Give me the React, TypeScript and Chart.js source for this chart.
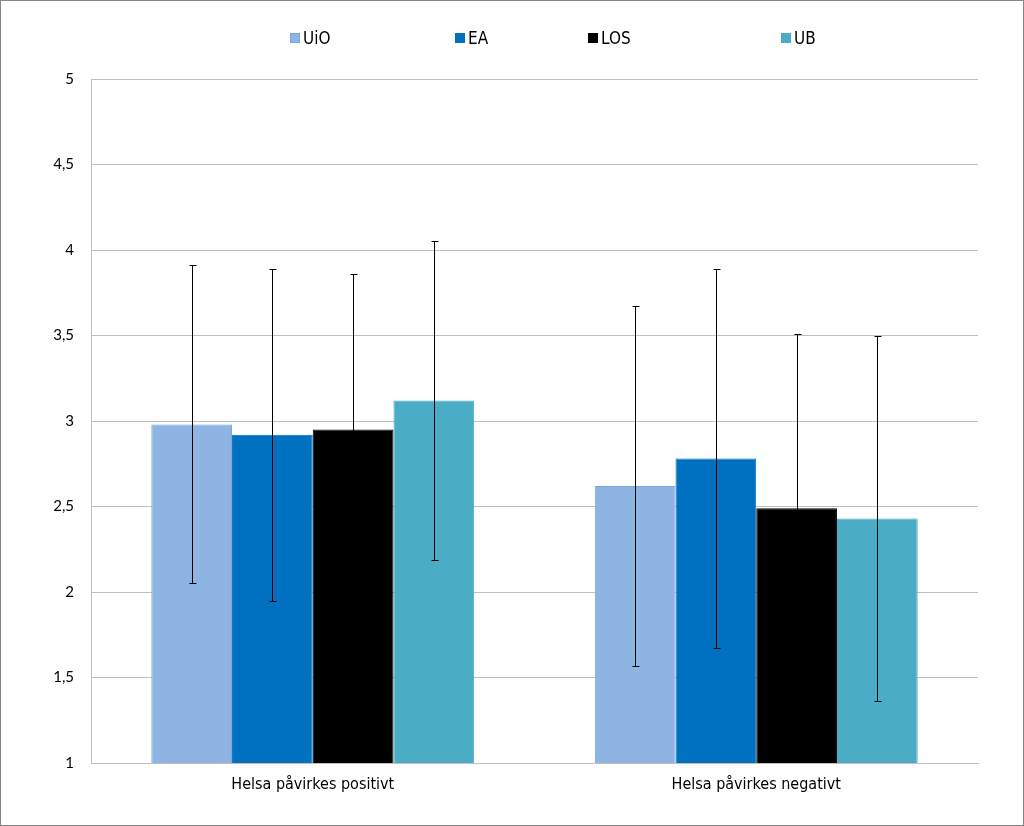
import React, { useEffect, useRef } from "react";
import { Chart, registerables } from "chart.js";

Chart.register(...registerables);

const categories = ["Helsa påvirkes positivt", "Helsa påvirkes negativt"];
const seriesNames = ["UiO", "EA", "LOS", "UB"];
const seriesColors = ["#8EB4E3", "#0070C0", "#000000", "#4BACC6"];
const seriesBorders = ["#7AA5DB", "#0070C0", "#000000", "#4BACC6"];
const uioMeans = [2.98, 2.62];
const eaMeans = [2.92, 2.78];
const losMeans = [2.95, 2.49];
const ubMeans = [3.12, 2.43];
const uioSd = [0.93, 1.05];
const eaSd = [0.97, 1.11];
const losSd = [0.91, 1.02];
const ubSd = [0.93, 1.07];
const yTicks = [1, 1.5, 2, 2.5, 3, 3.5, 4, 4.5, 5];

const allMeans = [uioMeans, eaMeans, losMeans, ubMeans];
const allSd = [uioSd, eaSd, losSd, ubSd];

const legendLeft = [290, 455, 588, 781];

const errorBarPlugin = {
  id: "errorBars",
  afterDatasetsDraw(chart: any) {
    const ctx = chart.ctx;
    const yScale = chart.scales.y;
    ctx.save();
    ctx.strokeStyle = "#000000";
    ctx.lineWidth = 1;
    chart.data.datasets.forEach((ds: any, di: number) => {
      const meta = chart.getDatasetMeta(di);
      meta.data.forEach((el: any, i: number) => {
        const m = ds.data[i];
        const sd = ds.sd[i];
        const x = Math.round(el.x) + 0.5;
        const yTop = Math.round(yScale.getPixelForValue(m + sd)) + 0.5;
        const yBot = Math.round(yScale.getPixelForValue(m - sd)) + 0.5;
        ctx.beginPath();
        ctx.moveTo(x, yTop);
        ctx.lineTo(x, yBot);
        ctx.moveTo(x - 3, yTop);
        ctx.lineTo(x + 4, yTop);
        ctx.moveTo(x - 3, yBot);
        ctx.lineTo(x + 4, yBot);
        ctx.stroke();
      });
    });
    ctx.restore();
  },
};

export default function App() {
  const ref = useRef<HTMLCanvasElement | null>(null);

  useEffect(() => {
    if (!ref.current) return;
    const chart = new Chart(ref.current, {
      type: "bar",
      data: {
        labels: categories,
        datasets: seriesNames.map((name, i) => ({
          label: name,
          data: allMeans[i],
          sd: allSd[i],
          backgroundColor: seriesColors[i],
          borderColor: seriesBorders[i],
          borderWidth: 1,
          categoryPercentage: 0.728,
          barPercentage: 1,
        })) as any,
      },
      options: {
        responsive: false,
        animation: false,
        layout: { padding: { top: 79, right: 46, left: 0, bottom: 0 } },
        plugins: { legend: { display: false }, tooltip: { enabled: false } },
        scales: {
          x: {
            grid: { display: false, drawTicks: false },
            border: { display: true, color: "#BFBFBF", width: 1 },
            ticks: {
              color: "#000000",
              padding: 12,
              font: { family: "'Liberation Sans Narrow', 'DejaVu Sans Condensed', sans-serif", size: 16 },
            },
            afterFit: (s: any) => {
              s.height = 63;
            },
          },
          y: {
            min: 1,
            max: 5,
            afterBuildTicks: (s: any) => {
              s.ticks = yTicks.map((v) => ({ value: v }));
            },
            grid: { color: "#BFBFBF", lineWidth: 1, drawTicks: false },
            border: { display: true, color: "#BFBFBF", width: 1 },
            ticks: {
              color: "#000000",
              padding: 17,
              font: { family: "Lato, 'Open Sans', sans-serif", size: 15 },
              callback: (v: any) => String(v).replace(".", ","),
            },
            afterFit: (s: any) => {
              s.width = 91;
            },
          },
        },
      } as any,
      plugins: [errorBarPlugin],
    });
    return () => chart.destroy();
  }, []);

  return (
    <div
      style={{
        position: "fixed",
        left: 0,
        top: 0,
        width: 1024,
        height: 826,
        background: "#ffffff",
        overflow: "hidden",
      }}
    >
      <canvas ref={ref} width={1024} height={826} style={{ display: "block", position: "absolute", left: 0, top: 0 }} />
      {seriesNames.map((name, i) => (
        <div
          key={name}
          style={{
            position: "absolute",
            left: legendLeft[i],
            top: 28,
            height: 20,
            display: "flex",
            alignItems: "center",
            fontFamily: "'Liberation Sans Narrow', 'DejaVu Sans Condensed', sans-serif",
            fontSize: 17,
            color: "#000",
            whiteSpace: "nowrap",
          }}
        >
          <span
            style={{
              display: "inline-block",
              width: 10,
              height: 10,
              background: seriesColors[i],
              border: `1px solid ${seriesBorders[i]}`,
              marginRight: 3,
              boxSizing: "border-box",
            }}
          />
          <span>{name}</span>
        </div>
      ))}
      <div
        style={{
          position: "absolute",
          left: 0,
          top: 0,
          width: 1024,
          height: 826,
          border: "1px solid #868686",
          boxSizing: "border-box",
          pointerEvents: "none",
        }}
      />
    </div>
  );
}
